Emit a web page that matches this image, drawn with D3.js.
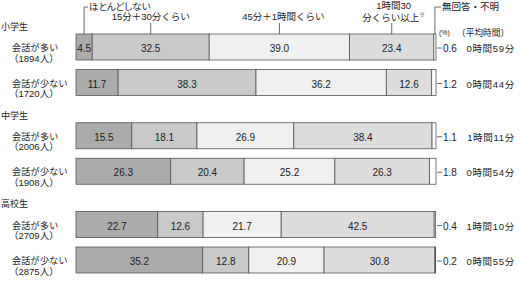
<!DOCTYPE html>
<html>
<head>
<meta charset="utf-8">
<script src="https://cdn.jsdelivr.net/npm/d3@7"></script>
<style>
  body { margin: 0; background: #fff; }
  svg text { font-family: "Liberation Sans", "Noto Sans CJK JP", sans-serif; fill: #222; }
  .palt { font-feature-settings: "palt"; }
</style>
</head>
<body>
<svg id="chart" width="520" height="281"></svg>
<script>
// data
const groups = ['小学生', '中学生', '高校生']
const rowLabels = ['会話が多い', '会話が少ない', '会話が多い', '会話が少ない', '会話が多い', '会話が少ない']
const counts = ['（1894人）', '（1720人）', '（2006人）', '（1908人）', '（2709人）', '（2875人）']
const categories = ['ほとんどしない', '15分＋30分くらい', '45分＋1時間くらい', '1時間30分くらい以上', '無回答・不明']
const hardly = [4.5, 11.7, 15.5, 26.3, 22.7, 35.2]
const min15to30 = [32.5, 38.3, 18.1, 20.4, 12.6, 12.8]
const min45to60 = [39.0, 36.2, 26.9, 25.2, 21.7, 20.9]
const over90 = [23.4, 12.6, 38.4, 26.3, 42.5, 30.8]
const noAnswer = [0.6, 1.2, 1.1, 1.8, 0.4, 0.2]
const avgTimes = ['0時間59分', '0時間44分', '1時間11分', '0時間54分', '1時間10分', '0時間55分']

const colors = ['#ababab', '#c9c9c9', '#f0f0f0', '#dddddd', '#ffffff']
const series = [hardly, min15to30, min45to60, over90, noAnswer]

const svg = d3.select('#chart')
const x = d3.scaleLinear().domain([0, 100]).range([76, 436])
// rows sit on a half-step grid, group headers take one step
const y = d3.scaleLinear().domain([1, 13]).range([47, 260])
const slot = i => Math.floor(i / 2) * 5 + 1 + (i % 2) * 2
const barH = 26

const rows = rowLabels.map((label, i) => {
    let acc = 0
    const segs = series.map((s, k) => {
        const seg = { k, v: s[i], x0: acc, x1: acc + s[i] }
        acc += s[i]
        return seg
    })
    return { i, label, count: counts[i], avg: avgTimes[i], segs, cy: y(slot(i)) }
})

// group headings
svg.selectAll('text.group').data(groups).enter()
    .append('text')
    .attr('class', 'group')
    .attr('x', 1)
    .attr('y', (d, g) => y(g * 5) + 0.5)
    .attr('font-size', 9)
    .text(d => d)

// row labels
const rowG = svg.selectAll('g.row').data(rows).enter()
    .append('g').attr('class', 'row')

rowG.append('text')
    .attr('x', 12).attr('y', d => d.cy + 4)
    .attr('font-size', 9).attr('letter-spacing', 0.3)
    .text(d => d.label)
rowG.append('text')
    .attr('x', 9).attr('y', d => d.cy + 14.5)
    .attr('font-size', 9.5)
    .text(d => d.count)

// segments
rowG.selectAll('rect').data(d => d.segs.map(s => ({ ...s, cy: d.cy }))).enter()
    .append('rect')
    .attr('x', d => x(d.x0))
    .attr('y', d => d.cy - barH / 2)
    .attr('width', d => x(d.x1) - x(d.x0))
    .attr('height', barH)
    .attr('fill', d => colors[d.k])
    .attr('stroke', '#555')
    .attr('stroke-width', 0.8)

rowG.selectAll('text.val').data(d => d.segs.filter(s => s.k < 4).map(s => ({ ...s, cy: d.cy }))).enter()
    .append('text')
    .attr('class', 'val')
    .attr('x', d => (x(d.x0) + x(d.x1)) / 2)
    .attr('y', d => d.cy + 5)
    .attr('text-anchor', 'middle')
    .attr('font-size', 10)
    .text(d => d.v.toFixed(1))

// no-answer leader + value, average time
rowG.append('line')
    .attr('x1', 437).attr('x2', 442)
    .attr('y1', d => d.cy + 1).attr('y2', d => d.cy + 1)
    .attr('stroke', '#444').attr('stroke-width', 0.8)
rowG.append('text')
    .attr('x', 443).attr('y', d => d.cy + 5)
    .attr('font-size', 10)
    .text(d => d.segs[4].v.toFixed(1))
rowG.append('text')
    .attr('x', 515).attr('y', d => d.cy + 5)
    .attr('text-anchor', 'end').attr('font-size', 9.5).attr('letter-spacing', 0.7)
    .text(d => d.avg)

// category callouts over the first bar
const firstRow = rows[0]
const mid = k => (x(firstRow.segs[k].x0) + x(firstRow.segs[k].x1)) / 2
const barTop = firstRow.cy - barH / 2
const lineStyle = sel => sel.attr('stroke', '#444').attr('stroke-width', 0.8).attr('fill', 'none')

svg.append('path')
    .attr('d', `M${mid(0)},${barTop} V7 H88`)
    .call(lineStyle)
svg.append('text').attr('class', 'palt').attr('x', 89).attr('y', 10)
    .attr('font-size', 9.5).text(categories[0])

svg.append('path').attr('d', `M${mid(1)},${barTop} V23`).call(lineStyle)
svg.append('text').attr('x', mid(1)).attr('y', 20).attr('text-anchor', 'middle')
    .attr('font-size', 9.5).text(categories[1])

svg.append('path').attr('d', `M${mid(2)},${barTop} V23`).call(lineStyle)
svg.append('text').attr('x', mid(2) + 4).attr('y', 20).attr('text-anchor', 'middle')
    .attr('font-size', 9.5).text(categories[2])

svg.append('path').attr('d', `M${mid(3)},${barTop} V23`).call(lineStyle)
svg.append('text').attr('x', mid(3) + 2).attr('y', 9).attr('text-anchor', 'middle')
    .attr('font-size', 9.5).text(categories[3].slice(0, 5))
svg.append('text').attr('x', mid(3) - 1).attr('y', 21).attr('text-anchor', 'middle')
    .attr('font-size', 9.5).text(categories[3].slice(5))
svg.append('text').attr('x', mid(3) + 28).attr('y', 16)
    .attr('font-size', 5).attr('fill', '#999').text('※')

svg.append('path').attr('d', `M${mid(4)},${barTop} V7 H441`).call(lineStyle)
svg.append('text').attr('x', 442).attr('y', 10).attr('font-size', 9.5).text(categories[4])

svg.append('text').attr('x', 439).attr('y', 35).attr('font-size', 7).text('(%)')
svg.append('text').attr('x', 457).attr('y', 36).attr('font-size', 8.7).text('〔平均時間〕')
</script>
</body>
</html>
